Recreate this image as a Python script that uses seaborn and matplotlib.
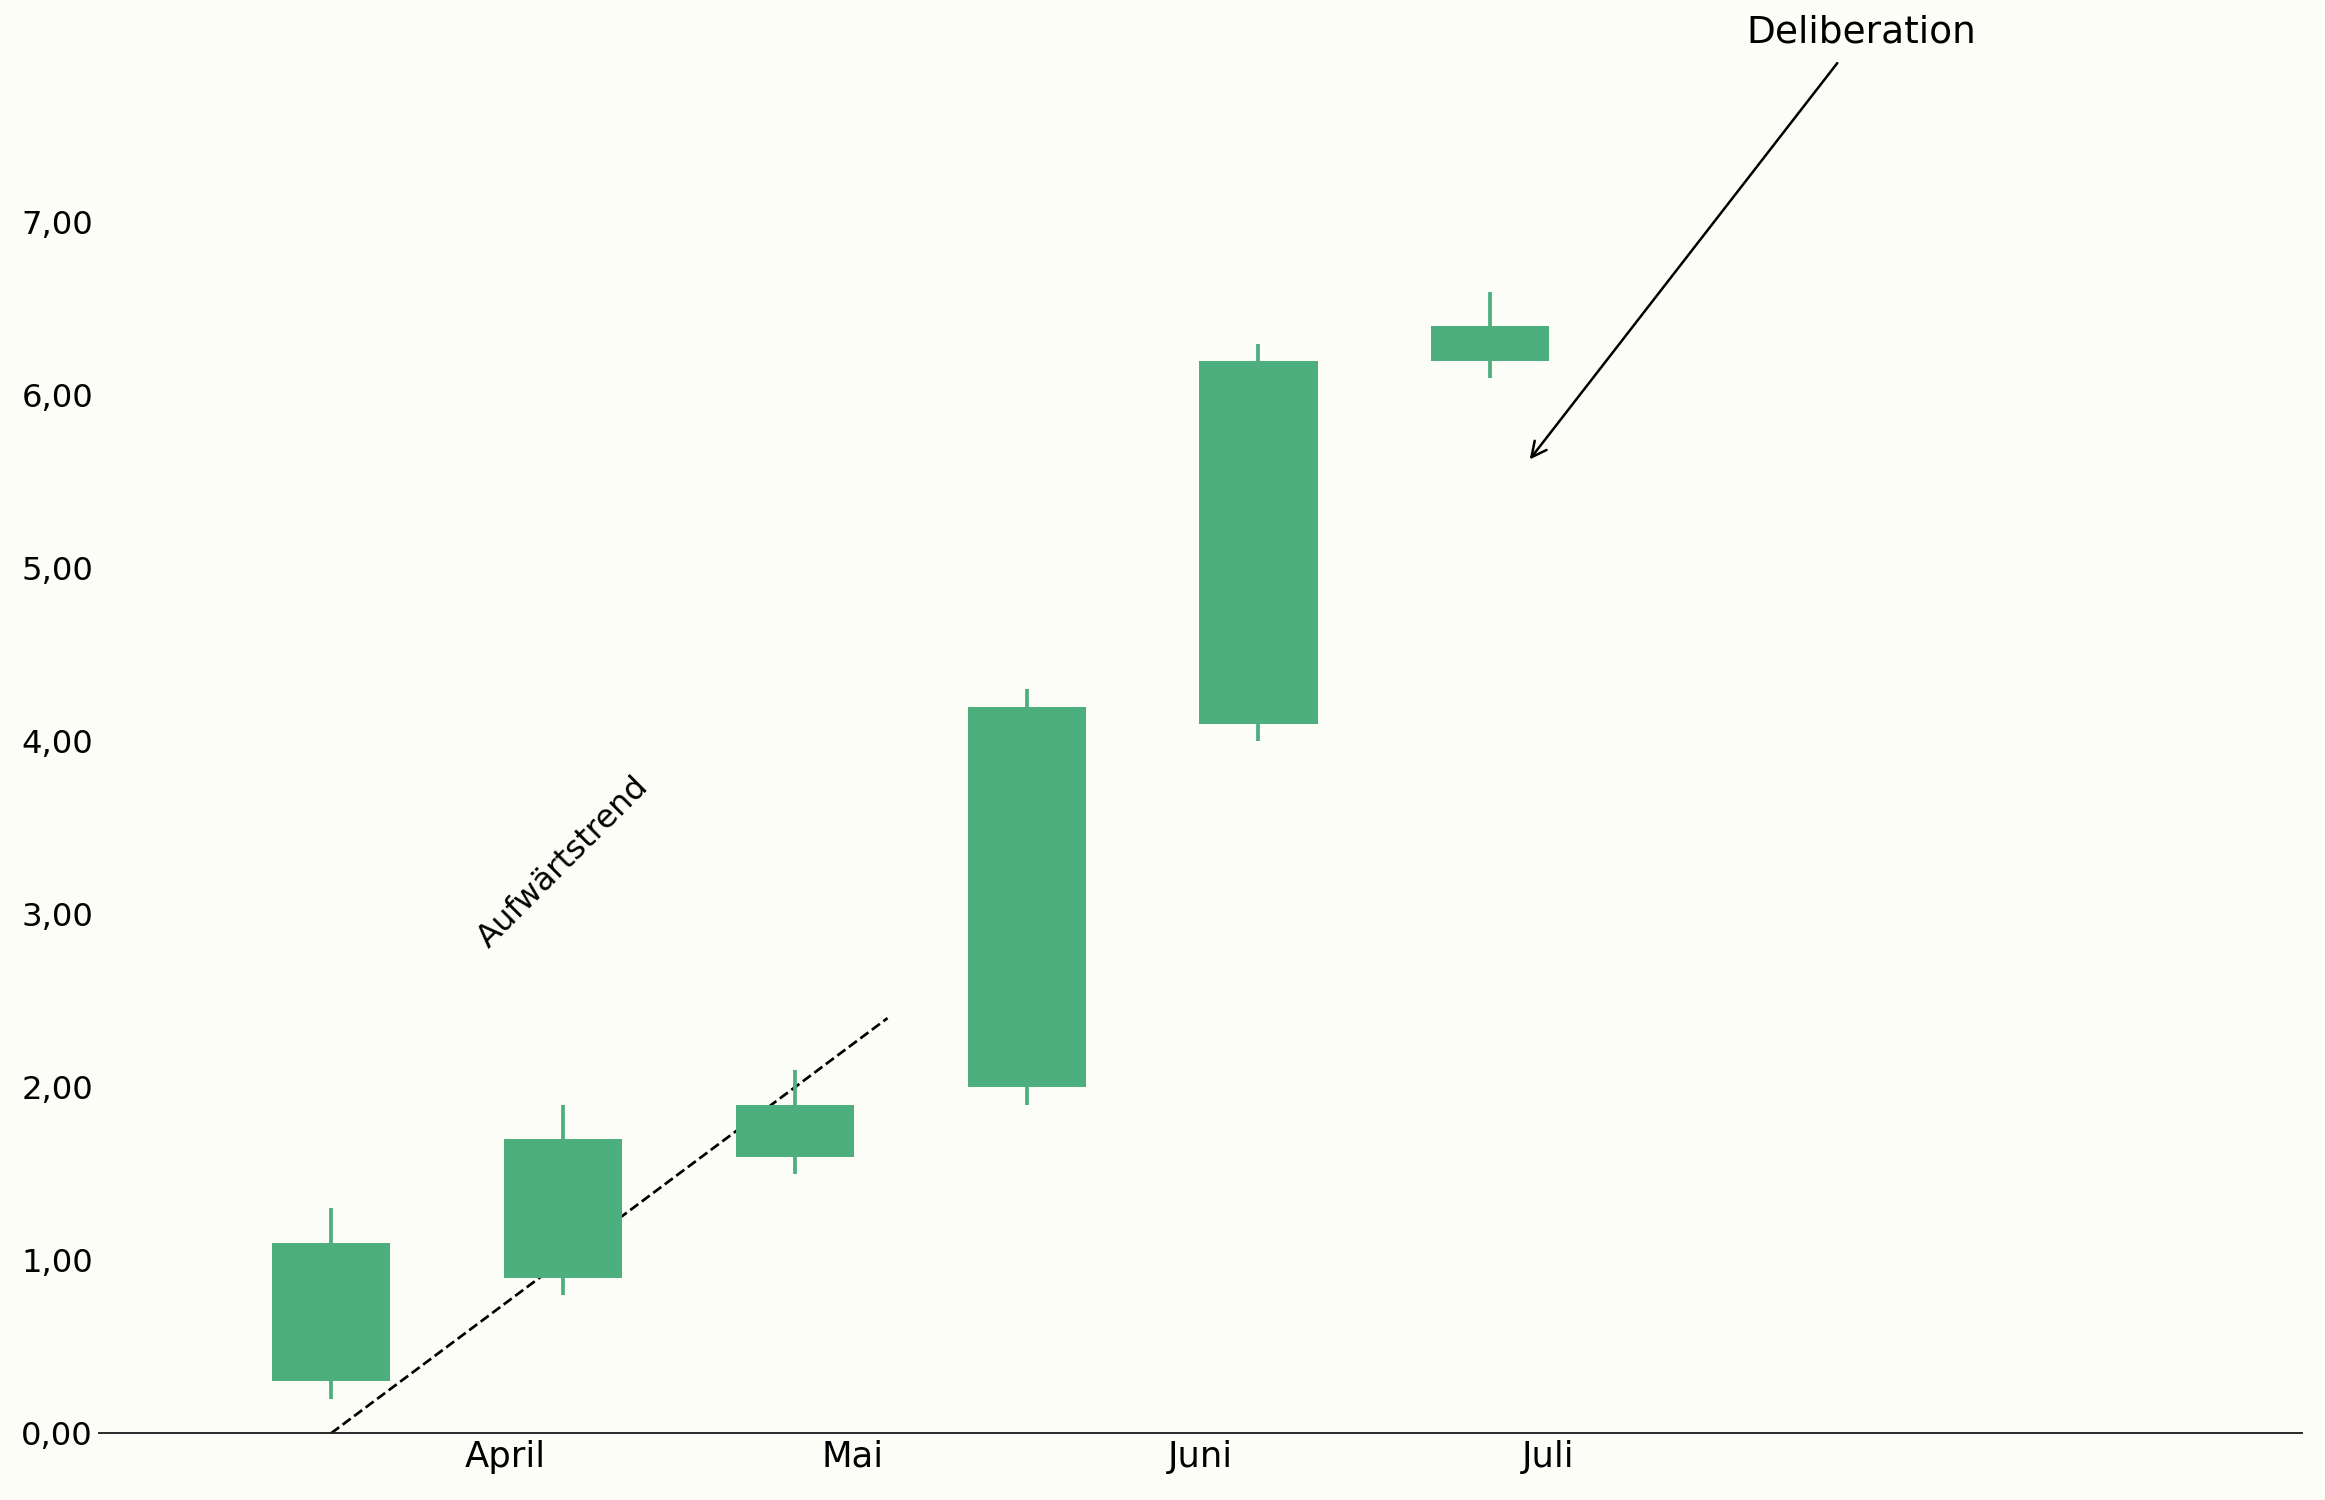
import numpy as np
import pandas as pd
import matplotlib
matplotlib.use("Agg")
import matplotlib.pyplot as plt
import seaborn as sns

# candle data
pos = [0, 1, 2, 3, 4, 5]
open_ = [0.3, 0.9, 1.6, 2.0, 4.1, 6.2]
close = [1.1, 1.7, 1.9, 4.2, 6.2, 6.4]
low = [0.2, 0.8, 1.5, 1.9, 4.0, 6.1]
high = [1.3, 1.9, 2.1, 4.3, 6.3, 6.6]

month_pos = [0.75, 2.25, 3.75, 5.25]
month_labels = ['April', 'Mai', 'Juni', 'Juli']

trend_x = [0, 2.4]
trend_y = [0, 2.4]

green = '#4caf7d'
bg = '#fdfdf8'

sns.set_theme(style='white')
plt.rcParams['font.family'] = ['DejaVu Sans']

df = pd.DataFrame({'pos': pos, 'open': open_, 'close': close, 'low': low, 'high': high})

fig = plt.figure(figsize=(15.5, 10), dpi=150, facecolor=bg)
ax = fig.add_axes([0.0427, 0.0445, 0.9473, 0.9225])
ax.set_facecolor(bg)

# trend line (behind the candles)
sns.lineplot(x=trend_x, y=trend_y, ax=ax, color='black', lw=1.3,
             linestyle='--', zorder=1)

# wicks then bodies
ax.vlines(df['pos'], df['low'], df['high'], color=green, lw=1.8, zorder=2)
ax.bar(df['pos'], df['close'] - df['open'], bottom=df['open'], width=0.51,
       color=green, edgecolor='none', zorder=3)

ax.text(1.0, 3.3, 'Aufwärtstrend', rotation=45, ha='center', va='center',
        fontsize=15.5, color='black')

ax.annotate('Deliberation', xy=(5.17, 5.63), xytext=(6.6, 8.1),
            ha='center', va='center', fontsize=18, color='black',
            arrowprops=dict(arrowstyle='->', color='black', lw=1.2,
                            shrinkA=5, shrinkB=0),
            annotation_clip=False)

ax.set_xlim(-1, 8.5)
ax.set_ylim(0, 8.0)
ax.set_xticks(month_pos)
ax.set_xticklabels(month_labels, fontsize=17, color='black')
yt = np.arange(0, 8)
ax.set_yticks(yt)
ax.set_yticklabels([f'{v:.2f}'.replace('.', ',') for v in yt], fontsize=15.5,
                   color='black')
ax.tick_params(axis='both', length=0, pad=3)

for s in ['top', 'right', 'left']:
    ax.spines[s].set_visible(False)
ax.spines['bottom'].set_color('#222222')
ax.spines['bottom'].set_linewidth(0.9)
ax.set_xlabel('')
ax.set_ylabel('')

fig.savefig('out.png', dpi=150, facecolor=bg)
